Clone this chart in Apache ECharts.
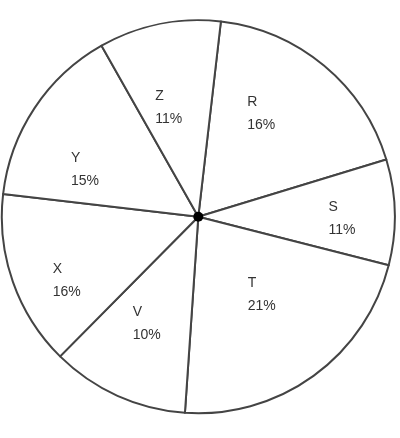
<!DOCTYPE html>
<html>
<head>
<meta charset="utf-8">
<script src="https://cdn.jsdelivr.net/npm/echarts@6/dist/echarts.min.js"></script>
<style>html,body{margin:0;padding:0;background:#fff;}#c{width:400px;height:438px;}</style>
</head>
<body>
<div id="c"></div>
<script>
// Categories in clockwise order starting just right of 12 o'clock
var categories = ['R', 'S', 'T', 'V', 'X', 'Y', 'Z'];
// Printed percentages
var shares = [16, 11, 21, 10, 16, 15, 11];
// Slice sizes as drawn in the picture (degrees of arc)
var drawnArc = [66.5, 31.2, 79.6, 40.8, 51.9, 53.9, 36.1];
// Label nudges relative to the default inside position
var labelNudge = [[-1, -25], [44, 4], [5, -4], [-9, 15], [-35, 30], [-28, 9], [-8, -10]];

var chart = echarts.init(document.getElementById('c'), null, {renderer: 'canvas'});
var data = categories.map(function (c, i) {
  return {
    name: c,
    value: drawnArc[i],
    share: shares[i],
    label: {offset: labelNudge[i]}
  };
});
chart.setOption({
  animation: false,
  backgroundColor: '#fff',
  series: [{
    type: 'pie',
    center: [198.3, 216.7],
    radius: [0, 196.5],
    startAngle: 83.4,
    clockwise: true,
    silent: true,
    itemStyle: {color: '#fff', borderColor: '#444', borderWidth: 2},
    label: {
      show: true,
      position: 'inside',
      formatter: function (p) {
        return '{n|' + p.name + '}\n{n|' + shares[p.dataIndex] + '%}';
      },
      rich: {
        n: {width: 30, align: 'left', fontSize: 14, lineHeight: 23, color: '#333', fontFamily: 'Liberation Sans, Arial, sans-serif'}
      }
    },
    labelLine: {show: false},
    data: data
  }, {
    type: 'pie',
    center: [198.3, 216.7],
    radius: [0, 5],
    silent: true,
    label: {show: false},
    itemStyle: {color: '#000', borderWidth: 0},
    data: [{value: 1, name: 'center'}]
  }]
});
</script>
</body>
</html>
